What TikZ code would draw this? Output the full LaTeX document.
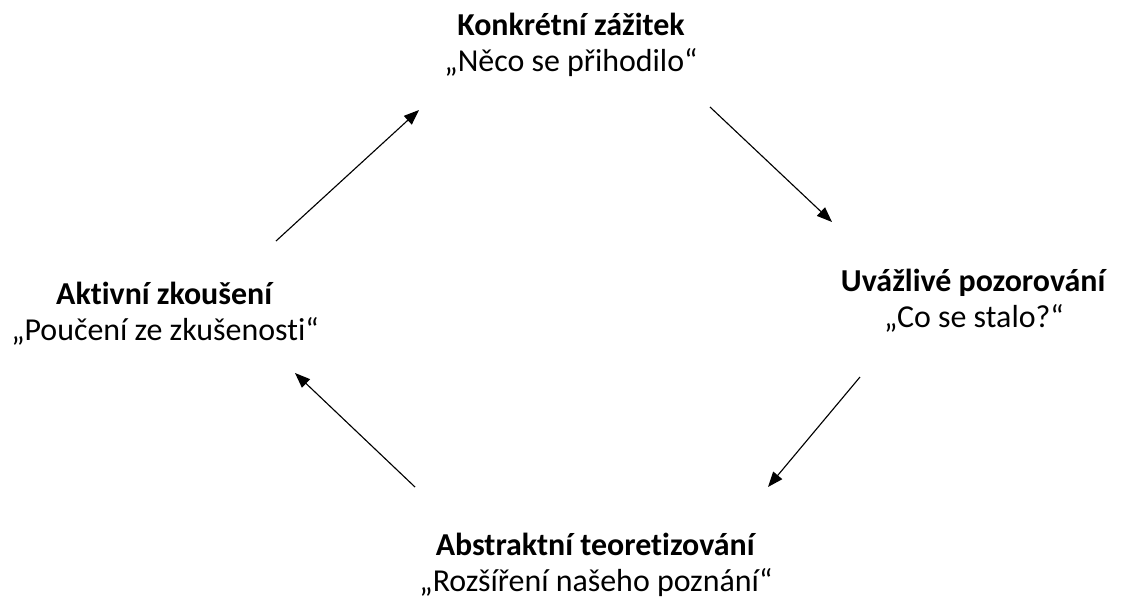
\documentclass[tikz,border=0pt]{standalone}
\usepackage{fontspec}
\setmainfont[Ligatures=NoCommon]{Carlito}
\usetikzlibrary{arrows.meta}
\usetikzlibrary{positioning}
\tikzstyle{phase}=[align=center,inner sep=0pt,anchor=base,font=\fontsize{22.7}{24.9}\selectfont]
\tikzstyle{step arrow}=[-{Triangle[length=3.8mm,width=2.9mm]},line width=0.8pt]

\begin{document}
\begin{tikzpicture}[x=0.025cm,y=-0.025cm]
\useasboundingbox (0,0) rectangle (1125,600);

%phases
    \foreach \pos/\name/\title/\quote in {{(571,71)/zazitek/Konkrétní zážitek/„Něco se přihodilo“},
        {(974,327)/pozorovani/Uvážlivé pozorování/„Co se stalo?“},
        {(596,591)/teorie/Abstraktní teoretizování/„Rozšíření našeho poznání“},
        {(165,340)/zkouseni/Aktivní zkoušení/„Poučení ze zkušenosti“}}
        \node[phase] (\name) at \pos {\textbf{\title}\\\quote};

%arrows
    \coordinate (a1) at (710,107);  \coordinate (a2) at (832,222);
    \coordinate (b1) at (860,377);  \coordinate (b2) at (768,487);
    \coordinate (c1) at (415,487);  \coordinate (c2) at (295,373);
    \coordinate (d1) at (276,241);  \coordinate (d2) at (419,110);

    \foreach \src/\dest in {a1/a2, b1/b2, c1/c2, d1/d2}
        \draw[step arrow] (\src) -- (\dest);

\end{tikzpicture}
\end{document}
